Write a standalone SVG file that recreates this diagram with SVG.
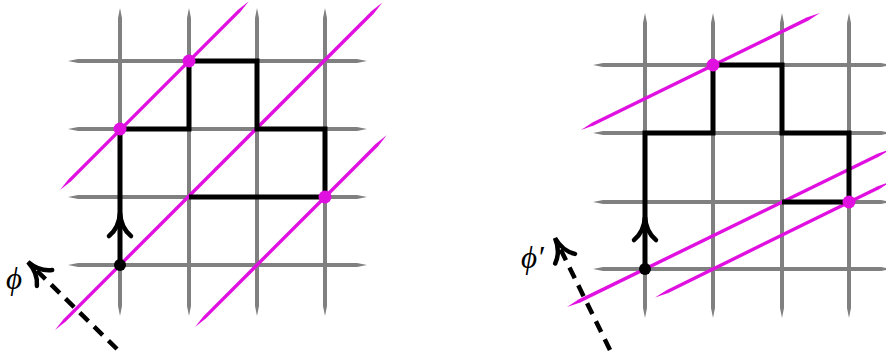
<svg xmlns="http://www.w3.org/2000/svg" xmlns:xlink="http://www.w3.org/1999/xlink" width="886" height="358" viewBox="0 0 886 358">
<style>
.grid{fill:#808080}
.mag{fill:#e010e0}
.path{fill:none;stroke:#000;stroke-width:5;stroke-linejoin:miter}
.dash{fill:none;stroke:#000;stroke-width:4.5;stroke-dasharray:12 8}
.hd{fill:none;stroke:#000;stroke-width:4.5;stroke-linecap:round}
.mdot{fill:#e010e0}
.lbl{font-family:"Liberation Serif","DejaVu Serif",serif;font-style:italic;font-size:31px;fill:#000}
</style>
<defs>
<path id="chev" class="hd" d="M-11,23 Q-1,15 0,0 Q1,15 11,23"/>
</defs>
<g id="left-grid">
<path class="grid" d="M120,8 L122,18 L122,306 L120,316 L118,306 L118,18 Z"/>
<path class="grid" d="M189,8 L191,18 L191,306 L189,316 L187,306 L187,18 Z"/>
<path class="grid" d="M257,8 L259,18 L259,306 L257,316 L255,306 L255,18 Z"/>
<path class="grid" d="M325,8 L327,18 L327,306 L325,316 L323,306 L323,18 Z"/>
<path class="grid" d="M68,61 L78,59 L357,59 L367,61 L357,63 L78,63 Z"/>
<path class="grid" d="M68,129 L78,127 L357,127 L367,129 L357,131 L78,131 Z"/>
<path class="grid" d="M68,197 L78,195 L357,195 L367,197 L357,199 L78,199 Z"/>
<path class="grid" d="M68,265 L78,263 L357,263 L367,265 L357,267 L78,267 Z"/>
</g>
<g id="right-grid">
<path class="grid" d="M645,13 L647,23 L647,308 L645,318 L643,308 L643,23 Z"/>
<path class="grid" d="M713,13 L715,23 L715,308 L713,318 L711,308 L711,23 Z"/>
<path class="grid" d="M782,13 L784,23 L784,308 L782,318 L780,308 L780,23 Z"/>
<path class="grid" d="M849,13 L851,23 L851,308 L849,318 L847,308 L847,23 Z"/>
<path class="grid" d="M593,65 L603,63 L881,63 L891,65 L881,67 L603,67 Z"/>
<path class="grid" d="M593,133 L603,131 L881,131 L891,133 L881,135 L603,135 Z"/>
<path class="grid" d="M593,202 L603,200 L881,200 L891,202 L881,204 L603,204 Z"/>
<path class="grid" d="M593,269 L603,267 L881,267 L891,269 L881,271 L603,271 Z"/>
</g>
<g id="left-lines">
<path class="mag" transform="translate(60,190) rotate(-45)" d="M0,0 L14,-1.7 L253,-1.7 L267,0 L253,1.7 L14,1.7 Z"/>
<path class="mag" transform="translate(55,330) rotate(-45)" d="M0,0 L14,-1.7 L449,-1.7 L463,0 L449,1.7 L14,1.7 Z"/>
<path class="mag" transform="translate(195,327) rotate(-45)" d="M0,0 L14,-1.7 L257,-1.7 L271,0 L257,1.7 L14,1.7 Z"/>
</g>
<g id="right-lines">
<path class="mag" transform="translate(581,130) rotate(-26.1)" d="M0,0 L14,-1.7 L252,-1.7 L266,0 L252,1.7 L14,1.7 Z"/>
<path class="mag" transform="translate(567,307) rotate(-26)" d="M0,0 L14,-1.7 L346,-1.7 L360,0 L346,1.7 L14,1.7 Z"/>
<path class="mag" transform="translate(655,297.6) rotate(-26.2)" d="M0,0 L14,-1.7 L249,-1.7 L263,0 L249,1.7 L14,1.7 Z"/>
</g>
<g id="connectors">
<path class="path" d="M120,265 V129 H189 V61 H257 V129 H325 V197 H189"/>
<use xlink:href="#chev" href="#chev" transform="translate(120,213)"/>
<path class="path" d="M645,269 V133 H713 V65 H782 V133 H849 V202 H782"/>
<use xlink:href="#chev" href="#chev" transform="translate(645,217)"/>
<line class="dash" x1="117" y1="349" x2="31" y2="265"/>
<use xlink:href="#chev" href="#chev" transform="translate(28,262) rotate(-46)"/>
<line class="dash" x1="610" y1="350" x2="557" y2="242"/>
<use xlink:href="#chev" href="#chev" transform="translate(555,238) rotate(-26)"/>
</g>
<g id="dots">
<circle cx="120" cy="265" r="6"/>
<circle class="mdot" cx="189" cy="61" r="6.5"/>
<circle class="mdot" cx="120" cy="129" r="6.5"/>
<circle class="mdot" cx="325" cy="197" r="6.5"/>
<circle cx="645" cy="269" r="6"/>
<circle class="mdot" cx="713" cy="65" r="6.5"/>
<circle class="mdot" cx="849" cy="202" r="6.5"/>
</g>
<g id="labels">
<text class="lbl" x="6" y="289">ϕ</text>
<text class="lbl" x="521" y="268">ϕ′</text>
</g>
</svg>
